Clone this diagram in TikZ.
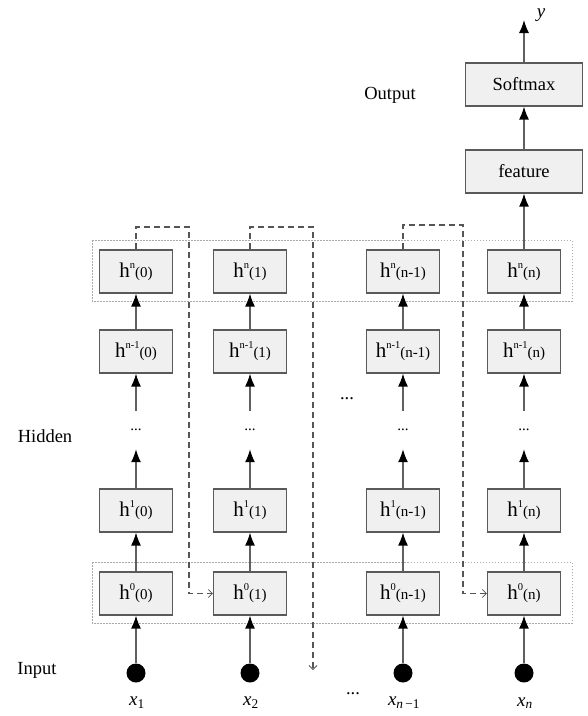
\documentclass[tikz,border=0pt]{standalone}
\usepackage{fontspec}
\setmainfont{Liberation Serif}
\usetikzlibrary{arrows.meta}
\definecolor{boxfill}{HTML}{F0F0F0}
\definecolor{boxborder}{HTML}{5A5A5A}
\definecolor{arrowgray}{HTML}{606060}
\definecolor{dashgray}{HTML}{555555}
\definecolor{dotgray}{HTML}{AAAAAA}
\newcommand{\hcell}[2]{h\raisebox{0.42em}{\fontsize{10.5}{10.5}\selectfont #1}{\fontsize{15}{15}\selectfont(#2)}}
\begin{document}
\begin{tikzpicture}[x=1pt,y=-1pt,
  cell/.style={draw=boxborder, fill=boxfill, line width=1.1pt, minimum width=73pt,
    minimum height=43pt, inner sep=0pt, font=\fontsize{21}{23}\selectfont},
  widecell/.style={cell, minimum width=117pt, font=\fontsize{18.5}{20}\selectfont},
  dotsn/.style={inner sep=0pt, minimum height=38pt, font=\fontsize{15}{15}\selectfont},
  inp/.style={circle, fill=black, inner sep=0pt, minimum size=19pt},
  up/.style={draw=arrowgray, line width=1.4pt, -{Latex[length=13pt,width=10pt,color=black]}},
  recur/.style={draw=dashgray, line width=1.1pt, dash pattern=on 6pt off 4pt},
  recurtip/.style={recur, -{Straight Barb[length=4pt,width=8pt,line width=0.8pt]}},
  grp/.style={draw=dotgray, line width=0.7pt, dash pattern=on 1.5pt off 1.5pt},
  lbl/.style={font=\fontsize{18.5}{20}\selectfont},
  xlbl/.style={font=\fontsize{19}{20}\selectfont}
]
\useasboundingbox (0,0) rectangle (588,716);

% group frames
\draw[grp] (92,240) rectangle (572,301);
\draw[grp] (92,562) rectangle (572,623);

\foreach \c/\x/\i/\xl in {a/136/0/{\textit{x}\textsubscript{1}},
                          b/250/1/{\textit{x}\textsubscript{2}},
                          c/403/n-1/{\textit{x}\textsubscript{\textit{n}\,−1}},
                          d/524/n/{\textit{x}\textsubscript{\textit{n}}}} {
  \node[cell] (h0\c) at (\x,593.5) {\hcell{0}{\i}};
  \node[cell] (h1\c) at (\x,510.5) {\hcell{1}{\i}};
  \node[dotsn] (dt\c) at (\x,430) {...};
  \node[cell] (hm\c) at (\x,351.5) {\hcell{n-1}{\i}};
  \node[cell] (hn\c) at (\x,271.5) {\hcell{n}{\i}};
  \node[inp] (in\c) at (\x,673) {};
  \node[xlbl] (xl\c) at (\x+1,703) {\xl};
  \draw[up] (in\c) -- (h0\c);
  \draw[up] (h0\c) -- (h1\c);
  \draw[up] (h1\c) -- (dt\c);
  \draw[up] (dt\c) -- (hm\c);
  \draw[up] (hm\c) -- (hn\c);
}

% output stack
\node[widecell] (feat) at (524,171.5) {feature};
\node[widecell] (soft) at (524,84.5) {Softmax};
\coordinate (ytop) at (524,20);
\node[xlbl] (ylbl) at (541,15) {\textit{y}};
\draw[up] (hnd) -- (feat);
\draw[up] (feat) -- (soft);
\draw[up] (soft) -- (ytop);

% recurrent dashed connections
\coordinate (t1) at (189,227);
\coordinate (t2) at (313,227);
\coordinate (t3) at (463,225);
\coordinate (e2) at (313,670);
\draw[recurtip] (hna.north) |- (t1) -- (t1 |- h0b) -- (h0b.west);
\draw[recurtip] (hnb.north) |- (t2) -- (e2);
\draw[recurtip] (hnc.north) |- (t3) -- (t3 |- h0d) -- (h0d.west);

% side labels
\node[lbl] (outl) at (390,95) {Output};
\node[lbl] (hidl) at (45,436) {Hidden};
\node[lbl] (inl) at (37,670) {Input};
\node[lbl] (mdots) at (347,399) {...};
\node[lbl] (bdots) at (353,694) {...};
\end{tikzpicture}
\end{document}
